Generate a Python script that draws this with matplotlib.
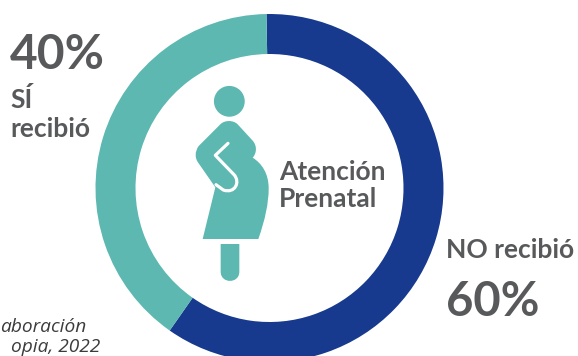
import matplotlib
matplotlib.use("Agg")
import matplotlib.pyplot as plt
from matplotlib.patches import Circle, PathPatch
from matplotlib.path import Path

W, H = 578, 356
labels = ["NO recibió", "SÍ", "recibió"]
values = [60, 40]
colors = ["#173a8e", "#5cb8b0"]
pct_labels = ["60%", "40%"]
center_label = ["Atención", "Prenatal"]
note_lines = ["aboración", "opia, 2022"]
INK = "#58595b"
TEAL = colors[1]

fig = plt.figure(figsize=(W / 100, H / 100), dpi=100)
ax = fig.add_axes([0, 0, 1, 1])
ax.pie(values, colors=colors, startangle=91, counterclock=False,
       radius=174, center=(269.5, H - 188),
       wedgeprops=dict(width=40, linewidth=0))
ax.set_xlim(0, W)
ax.set_ylim(0, H)
ax.set_aspect("equal")
ax.axis("off")


def z(x, y):
    """Icon point read in the 3x crop anchored at (170, 70)."""
    return (170 + x / 3, H - (70 + y / 3))


M, L, C3, CL = Path.MOVETO, Path.LINETO, Path.CURVE4, Path.CLOSEPOLY


def shape(cmds, fc=None, ec="none", lw=0, **kw):
    verts, codes = [], []
    for code, pts in cmds:
        for p in pts:
            verts.append(z(*p))
            codes.append(code)
    ax.add_patch(PathPatch(Path(verts, codes), facecolor=fc or "none",
                           edgecolor=ec, linewidth=lw, **kw))


ax.add_patch(Circle(z(178, 94), 15.4, fc=TEAL, ec="none"))
shape([
    (M, [(152, 162)]),
    (C3, [(165, 150), (190, 150), (203, 163)]),
    (L, [(248, 212)]),
    (C3, [(262, 228), (260, 250), (248, 263)]),
    (C3, [(275, 280), (296, 310), (296, 355)]),
    (C3, [(296, 400), (285, 450), (265, 507)]),
    (L, [(98, 507), (136, 352), (86, 280)]),
    (C3, [(74, 265), (74, 245), (86, 228)]),
    (L, [(152, 162), (152, 162)]),
    (CL, [(152, 162)]),
], fc=TEAL)
shape([
    (M, [(174, 220)]),
    (L, [(136, 256), (192, 314)]),
    (C3, [(212, 336), (195, 372), (160, 360)]),
    (L, [(138, 344)]),
], ec="white", lw=2.3, capstyle="round", joinstyle="round")
shape([
    (M, [(152, 522)]),
    (L, [(208, 522), (208, 605)]),
    (C3, [(208, 642), (152, 642), (152, 605)]),
    (L, [(152, 522)]),
    (CL, [(152, 522)]),
], fc=TEAL)


def txt(x, y, s, size, weight="bold", **kw):
    kw.setdefault("family", "Lato")
    kw.setdefault("color", INK)
    ax.text(x, H - y, s, fontsize=size, fontweight=weight, va="baseline", **kw)


txt(10, 69, pct_labels[1], 34.5)
txt(10, 108, labels[1], 19)
txt(10, 137, labels[2], 19)
txt(446, 258, labels[0], 19)
txt(446, 316, pct_labels[0], 34)
txt(279, 180, center_label[0], 19)
txt(279, 207, center_label[1], 19)
txt(0, 332, note_lines[0], 13.8, weight="normal",
    family="Open Sans", style="italic", color="#3c3c3e")
txt(11, 351.5, note_lines[1], 13.8, weight="normal",
    family="Open Sans", style="italic", color="#3c3c3e")

fig.savefig("out.png", dpi=100, facecolor="white")
